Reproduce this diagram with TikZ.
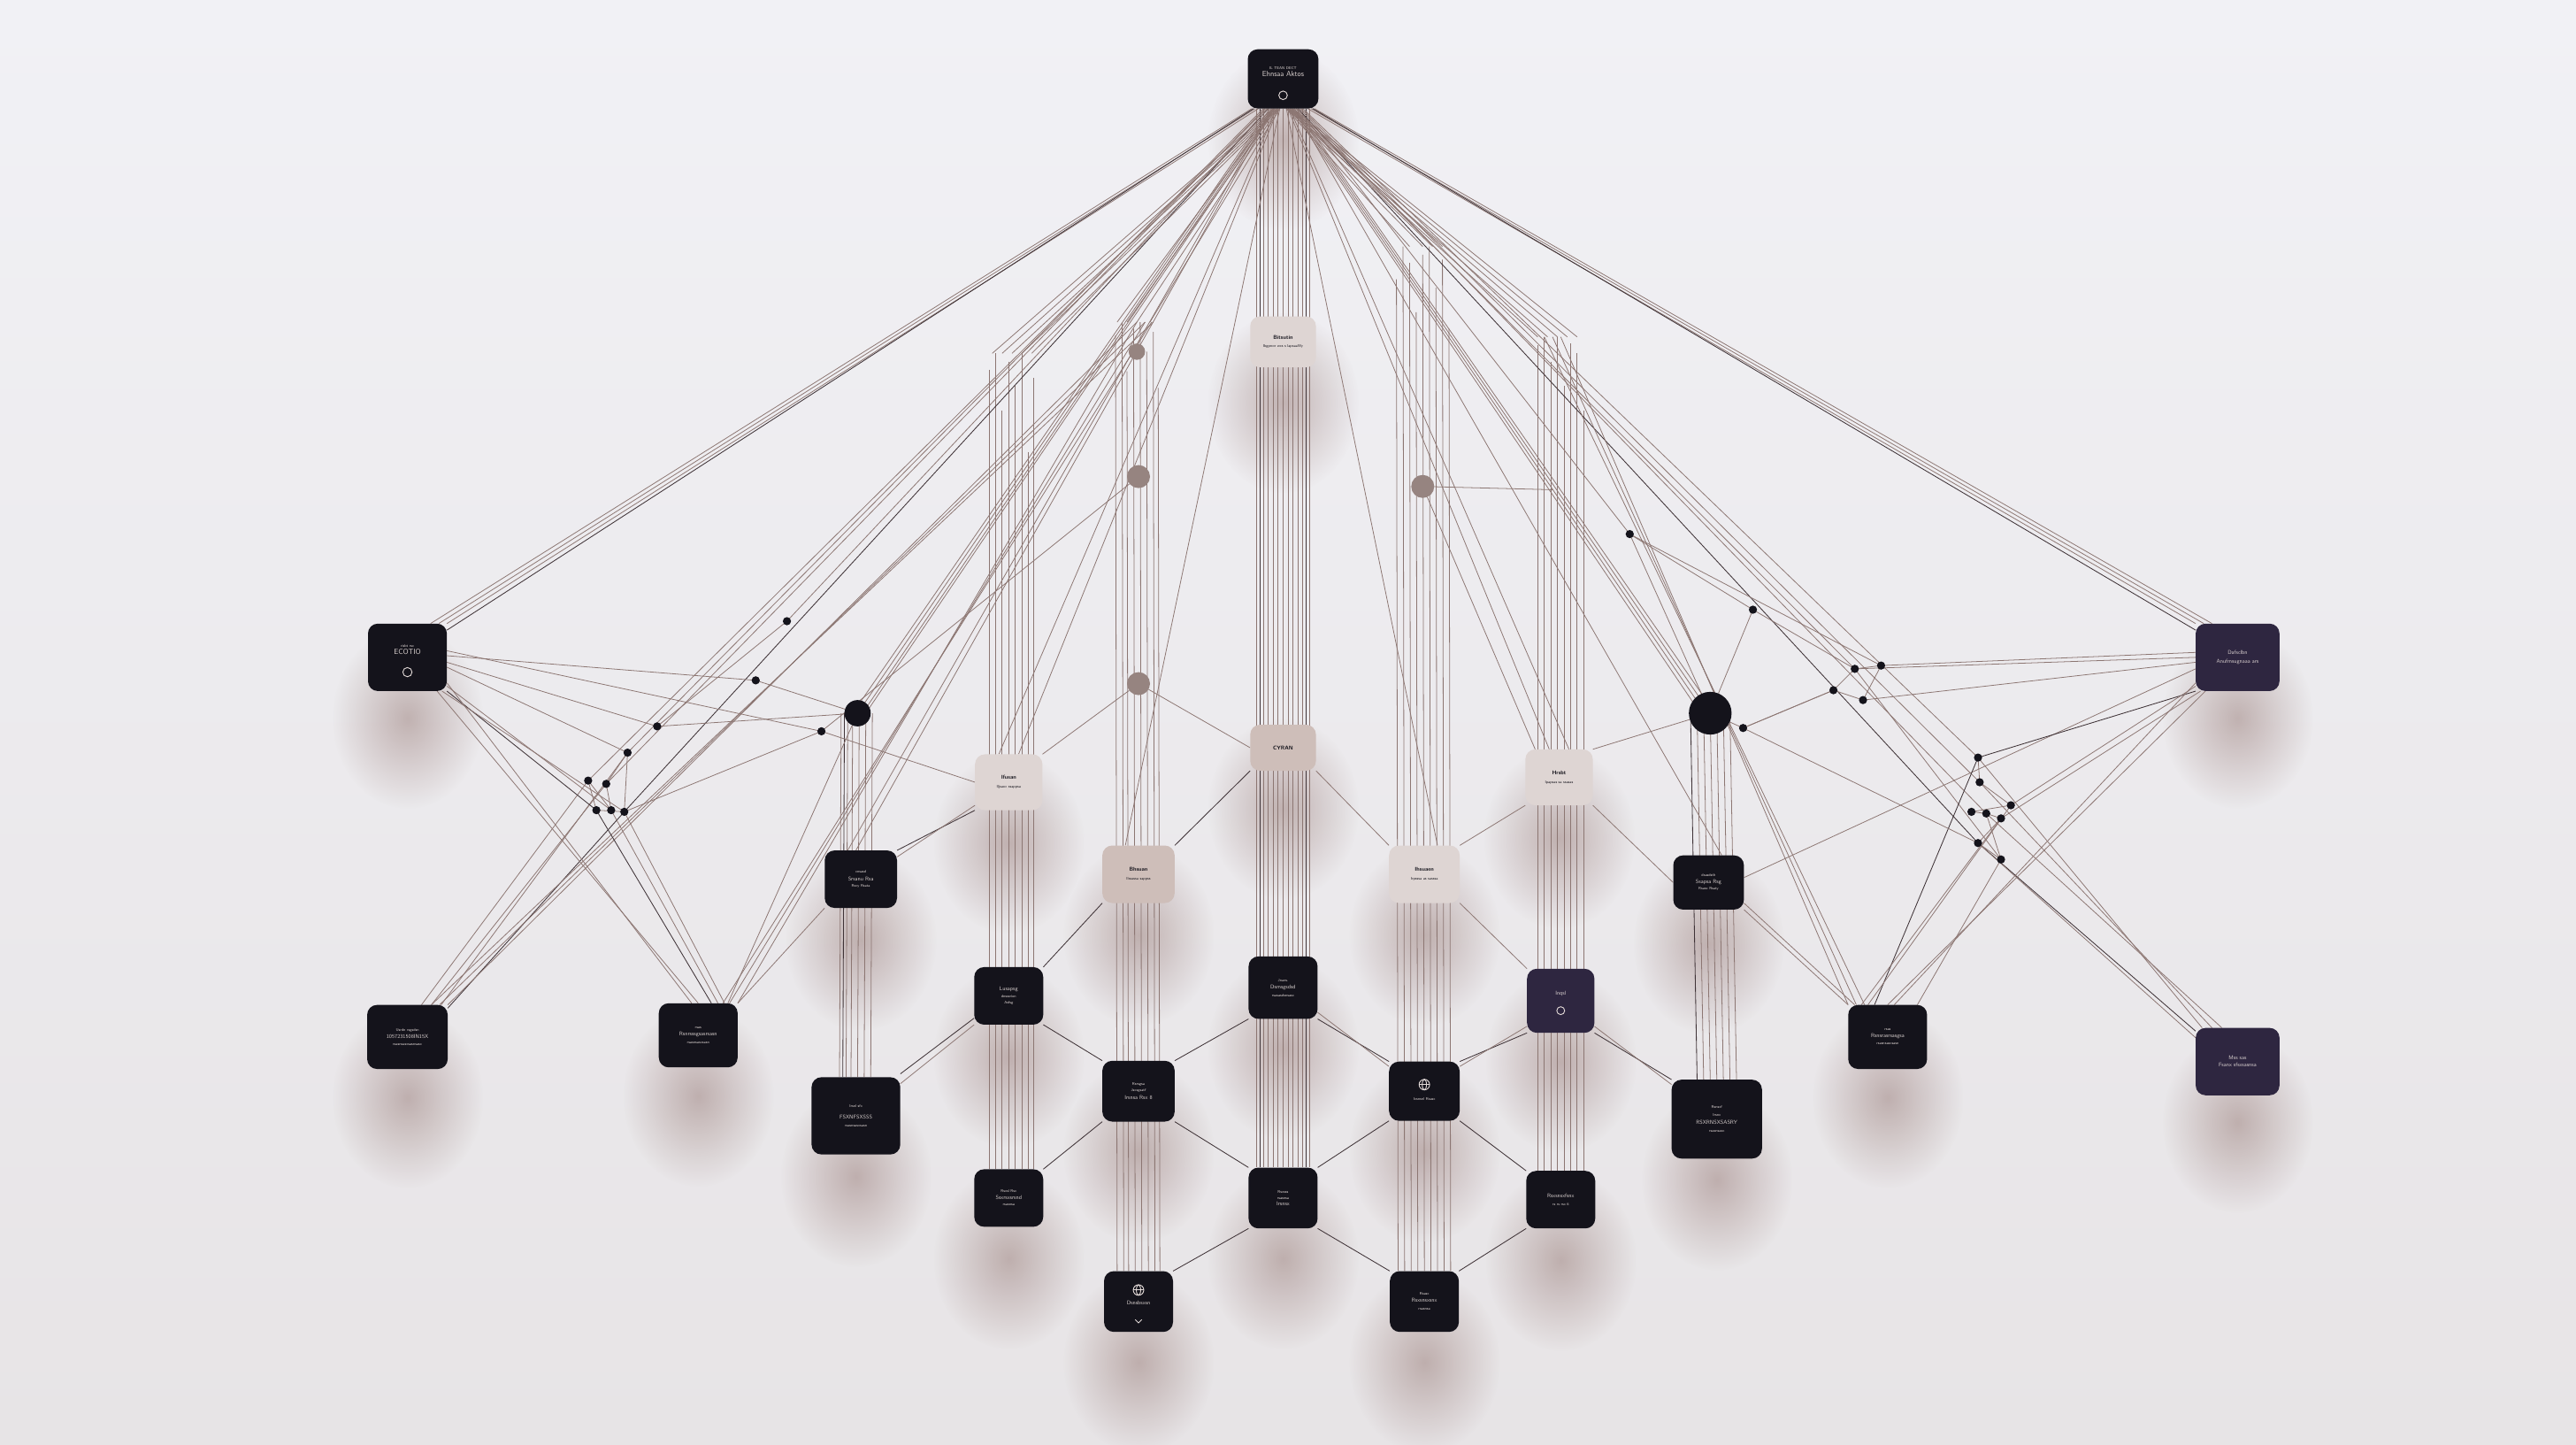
\documentclass[tikz,border=0pt]{standalone}
\usepackage{fontspec}
\usepackage{tikz}
\usetikzlibrary{positioning}
\usetikzlibrary{fadings}
\definecolor{bgtop}{RGB}{241,241,245}
\definecolor{bgbot}{RGB}{231,228,230}
\definecolor{boxdark}{RGB}{20,19,27}
\definecolor{boxviolet}{RGB}{46,38,64}
\definecolor{boxlight}{RGB}{222,213,211}
\definecolor{boxrose}{RGB}{206,190,185}
\definecolor{wirec}{RGB}{140,118,114}
\definecolor{wired}{RGB}{62,50,54}
\definecolor{dotgray}{RGB}{150,132,128}
\definecolor{shadowc}{RGB}{140,108,103}
\definecolor{inktext}{RGB}{226,217,215}
\tikzfading[name=softblob, inner color=transparent!0, outer color=transparent!100]
\pgfdeclarelayer{wall}
\pgfdeclarelayer{shade}
\pgfdeclarelayer{wires}
\pgfsetlayers{wall,shade,wires,main}
\newcommand{\ttxt}[1]{{\fontsize{6.5}{7.5}\selectfont #1}}
\newcommand{\mtxt}[1]{{\fontsize{13}{15}\selectfont #1}}
\tikzset{
  card/.style={rounded corners=6mm, minimum width=43mm, minimum height=36mm,
    inner sep=1mm, align=center, font=\sffamily\fontsize{9.5}{11}\selectfont},
  darkcard/.style={card, fill=boxdark, text=inktext},
  violetcard/.style={card, fill=boxviolet, text=inktext},
  lightcard/.style={card, fill=boxlight, text=boxdark},
  rosecard/.style={card, fill=boxrose, text=boxdark},
  wire/.style={draw=wirec, line width=0.42mm},
  darkwire/.style={draw=wired, line width=0.45mm},
  knot/.style={circle, fill=boxdark, inner sep=0pt, minimum size=5mm},
  bead/.style={circle, fill=dotgray, inner sep=0pt, minimum size=12mm},
  hole/.style={draw=inktext, line width=0.5mm},
  blob/.style={fill=shadowc, fill opacity=.45, path fading=softblob}
}
\begin{document}
\begin{tikzpicture}[x=1mm,y=-1mm]
\useasboundingbox (0,0) rectangle (1568,879);
\begin{pgfonlayer}{wall}
\shade[top color=bgtop, bottom color=bgbot] (0,0) rectangle (1568,879);
\end{pgfonlayer}

% cards, top to bottom
\node[darkcard] (hub) at (781,48) {\ttxt{IL TEAN DECT}\\[0.5mm]\mtxt{Ehnsaa Aktos}\\[5mm]~};
\node[lightcard, minimum width=40mm, minimum height=31mm] (l1) at (781,208) {\textbf{Bitsutin}\\[1.5mm]\ttxt{Ibgpnce wcs s lapsaaWy}};
\node[darkcard, minimum width=48mm, minimum height=41mm] (wup) at (248,400) {\ttxt{risbt rsc}\\[0.5mm]\mtxt{ECOTIO}\\[6mm]~};
\node[violetcard, minimum width=51mm, minimum height=41mm] (eup) at (1362,400) {Dafsclbn\\[1.5mm]Anufmsugnaaa ars};
\node[rosecard, minimum width=40mm, minimum height=28mm] (lb) at (781,455) {\textbf{CYRAN}};
\node[lightcard, minimum width=41mm, minimum height=34mm] (la) at (614,476) {\textbf{Ifusan}\\[1.5mm]\ttxt{Iljsaoc ssappsa}};
\node[lightcard, minimum width=41mm, minimum height=34mm] (lc) at (949,473) {\textbf{Hrsbt}\\[1.5mm]\ttxt{Ipapsas sa ssasas}};
\node[rosecard, minimum width=44mm, minimum height=35mm] (ld) at (693,532) {\textbf{Bhsuan}\\[1.5mm]\ttxt{Ilssassa sappss}};
\node[lightcard, minimum width=43mm, minimum height=35mm] (le) at (867,532) {\textbf{Ihsuaen}\\[1.5mm]\ttxt{Irpsssa as sasssa}};
\node[darkcard, minimum width=44mm, minimum height=35mm] (df) at (524,535) {\ttxt{cnsasd}\\[0.5mm]Srsanu Rsa\\\ttxt{Rsxy Rsata}};
\node[darkcard, minimum width=43mm, minimum height=33mm] (dg) at (1040,537) {\ttxt{dsasdsth}\\[0.5mm]Ssapsa Rsg\\\ttxt{Rsasx Rsaty}};
\node[darkcard, minimum width=42mm, minimum height=38mm] (m2) at (781,601) {\ttxt{Jnaes.}\\[0.5mm]Dsmsgsdsd\\[1mm]\ttxt{rsasasdsnsasx}};
\node[darkcard, minimum width=42mm, minimum height=35mm] (m1) at (614,606) {Lusapsg\\[0.5mm]\ttxt{dnsssrion}\\\ttxt{Asfsg}};
\node[violetcard, minimum width=41mm, minimum height=39mm] (m3) at (950,609) {Inqsl\\[6mm]~};
\node[darkcard, minimum width=49mm, minimum height=39mm] (bl1) at (248,631) {\ttxt{Usrdn rsgsdsn}\\[0.5mm]1057231508IN15X\\[0.5mm]\ttxt{rsasnsasxsasnsasx}};
\node[darkcard, minimum width=48mm, minimum height=39mm] (bl2) at (425,630) {\ttxt{rsas}\\[0.5mm]Rsnrsssgsasrsasn\\[0.5mm]\ttxt{rsasnsasxsasn}};
\node[darkcard, minimum width=48mm, minimum height=39mm] (br1) at (1149,631) {\ttxt{rsas}\\[0.5mm]Rsnsrasrsasgsa\\[0.5mm]\ttxt{rsasnsasxsasn}};
\node[violetcard, minimum width=51mm, minimum height=41mm] (br2) at (1362,646) {Mss sas\\[0.5mm]Fsanx sfsxsasnsa};
\node[darkcard, minimum width=44mm, minimum height=37mm] (n2) at (693,664) {\ttxt{Rsrsgsa}\\\ttxt{Jsxsgsatf}\\[1mm]Irsnsa Rsx 8};
\node[darkcard, minimum width=43mm, minimum height=36mm] (n3) at (867,664) {\\[7mm]\ttxt{Ixsnsnl Rsasx}};
\node[darkcard, minimum width=54mm, minimum height=47mm] (n1) at (521,679) {\ttxt{Irsnl sfx}\\[3mm]FSXNFSXSSS\\[1mm]\ttxt{rsasnsasxsasn}};
\node[darkcard, minimum width=55mm, minimum height=48mm] (n4) at (1045,681) {\ttxt{Rsnsxf}\\[1mm]\ttxt{Irsnx}\\[1mm]RSXRNSXSASRY\\[1mm]\ttxt{rsasnsasx}};
\node[darkcard, minimum width=42mm, minimum height=35mm] (r1) at (614,729) {\ttxt{Rsxsl Rsx}\\[0.5mm]Ssxrsxsrsnd\\\ttxt{rsasnsa}};
\node[darkcard, minimum width=42mm, minimum height=37mm] (r2) at (781,729) {\ttxt{Rsxsss}\\\ttxt{rsasnsa}\\Irsnsx};
\node[darkcard, minimum width=42mm, minimum height=35mm] (r3) at (950,730) {Rsxsnsxfsnx\\[1mm]\ttxt{rs rs rsx 6}};
\node[darkcard, minimum width=42mm, minimum height=37mm] (s1) at (693,792) {\\[7mm]Dsnsbsxsn\\[3mm]~};
\node[darkcard, minimum width=42mm, minimum height=37mm] (s2) at (867,792) {\ttxt{Rsasx}\\[0.5mm]Rsxsnsxsnx\\[1mm]\ttxt{rsasnsa}};

% icons inside cards
\draw[hole] ([yshift=-10mm]hub.center) circle (2.6mm);
\draw[hole] ([yshift=-9mm]wup.center) circle (2.8mm);
\draw[hole] ([yshift=-6mm]m3.center) circle (2.4mm);
\draw[hole] ([yshift=4mm]n3.center) circle (3.2mm);
\draw[hole] ([yshift=4mm]n3.center) ellipse (1.3mm and 3.2mm);
\draw[hole] ([xshift=-3.2mm,yshift=4mm]n3.center) -- ([xshift=3.2mm,yshift=4mm]n3.center);
\draw[hole] ([yshift=7mm]s1.center) circle (3.2mm);
\draw[hole] ([yshift=7mm]s1.center) ellipse (1.3mm and 3.2mm);
\draw[hole] ([xshift=-3.2mm,yshift=7mm]s1.center) -- ([xshift=3.2mm,yshift=7mm]s1.center);
\draw[hole] ([xshift=-2mm,yshift=-11mm]s1.center) -- ([yshift=-13mm]s1.center) -- ([xshift=2mm,yshift=-11mm]s1.center);

% soft shadows
\begin{pgfonlayer}{shade}
\foreach \n in {hub,l1,wup,eup,lb,la,lc,ld,le,df,dg,m1,m2,m3,bl1,bl2,br1,br2,n1,n2,n3,n4,r1,r2,r3,s1,s2}
  \fill[blob] ([xshift=-46mm,yshift=18mm]\n.center) rectangle ([xshift=46mm,yshift=-92mm]\n.center);
\end{pgfonlayer}

% dots
\node[knot, minimum size=16mm] (dotl) at (522,434) {};
\node[knot, minimum size=26mm] (dotr) at (1041,434) {};
\node[bead, minimum size=10mm] (g1) at (692,214) {};
\node[bead, minimum size=14mm] (g2) at (693,290) {};
\node[bead, minimum size=14mm] (g3) at (693,416) {};
\node[bead, minimum size=14mm] (g4) at (866,296) {};
\node[knot] (k1) at (400,442) {};
\node[knot] (k2) at (460,414) {};
\node[knot] (k3) at (479,378) {};
\node[knot] (k4) at (500,445) {};
\node[knot] (k5) at (382,458) {};
\node[knot] (k6) at (369,477) {};
\node[knot] (k7) at (358,475) {};
\node[knot] (k8) at (363,493) {};
\node[knot] (k9) at (372,493) {};
\node[knot] (k10) at (380,494) {};
\node[knot] (q1) at (992,325) {};
\node[knot] (q2) at (1067,371) {};
\node[knot] (q3) at (1061,443) {};
\node[knot] (q4) at (1116,420) {};
\node[knot] (q5) at (1134,426) {};
\node[knot] (q6) at (1145,405) {};
\node[knot] (q7) at (1129,407) {};
\node[knot] (q8) at (1204,461) {};
\node[knot] (q9) at (1205,476) {};
\node[knot] (q10) at (1209,495) {};
\node[knot] (q11) at (1218,498) {};
\node[knot] (q12) at (1224,490) {};
\node[knot] (q13) at (1204,513) {};
\node[knot] (q14) at (1218,523) {};
\node[knot] (q15) at (1200,494) {};
\coordinate (ta) at (614,215);
\coordinate (tb) at (692,196);
\coordinate (tc) at (866,150);
\coordinate (td) at (950,205);
\coordinate (tm) at (945,298);

\begin{pgfonlayer}{wires}
% column bundles
\foreach \dx in {-16,-12,-9,-6,-3,0,3,6,9,12,16}
  \draw[wire] ([xshift=\dx mm]hub.south) -- ([xshift=\dx mm]r2.north);
\draw[darkwire] ([xshift=-14mm]hub.south) -- ([xshift=-14mm]r2.north);
\draw[darkwire] ([xshift=14mm]hub.south) -- ([xshift=14mm]r2.north);
\foreach \dx/\dy in {-12/10,-8/0,-4/35,0/5,4/20,8/0,12/60,15/15}
  \draw[wire] ([xshift=\dx mm, yshift=-\dy mm]ta) -- ([xshift=\dx mm]r1.north);
\foreach \dx/\dy in {-13/8,-9/0,-6/30,-2/4,2/0,6/18,10/6,13/40}
  \draw[wire] ([xshift=\dx mm, yshift=-\dy mm]tb) -- ([xshift=\dx mm]s1.north);
\foreach \dx/\dy in {-16/20,-12/0,-8/10,-4/40,0/5,4/0,8/25,12/8,16/50}
  \draw[wire] ([xshift=\dx mm, yshift=-\dy mm]tc) -- ([xshift=\dx mm]s2.north);
\foreach \dx/\dy in {-14/5,-10/0,-6/15,-2/0,2/30,6/4,10/10,14/45}
  \draw[wire] ([xshift=\dx mm, yshift=-\dy mm]td) -- ([xshift=\dx mm]r3.north);
\foreach \dx in {-10,-6,-3,1,5,9}
  \draw[wire] ([xshift=\dx mm]dotl.center) -- ([xshift=\dx mm]n1.north);
\draw[darkwire] ([xshift=-8mm]dotl.center) -- ([xshift=-8mm]n1.north);
\foreach \dx in {-8,-4,0,4,8,12}
  \draw[wire] ([xshift=\dx mm]dotr.center) -- ([xshift=\dx mm]n4.north);
\draw[darkwire] ([xshift=-12mm]dotr.center) -- ([xshift=-12mm]n4.north);

% fans from the hub, left
\foreach \a/\b in {-19/-10,-17/-5,-15/0}
  \draw[wire] ([xshift=\a mm]hub.south) -- ([xshift=\b mm]wup.north east);
\draw[darkwire] ([xshift=-18mm]hub.south) -- ([yshift=-4mm]wup.north east);
\draw[wire] ([xshift=-12mm]hub.south) -- (k5.center) -- ([xshift=-4mm]bl1.north east);
\draw[wire] ([xshift=-11mm]hub.south) -- (k6.center) -- ([xshift=-10mm]bl1.north east);
\draw[wire] ([xshift=-10mm]hub.south) -- (k7.center) -- ([xshift=-16mm]bl1.north east);
\draw[darkwire] ([xshift=-9mm]hub.south) -- (k10.center) -- ([yshift=-2mm]bl1.north east);
\foreach \a/\s in {-8/-3,-7/0,-6/3,-5/5}
  \draw[wire] ([xshift=\a mm]hub.south) -- ([xshift=\s mm]dotl.center);
\draw[wire] ([xshift=-9mm]hub.south) -- (k3.center) -- (k1.center);
\draw[wire] ([xshift=-7mm]hub.south) -- ([xshift=-8mm]df.north);
\draw[wire] ([xshift=-6mm]hub.south) -- ([xshift=-3mm]df.north);
\foreach \a/\s in {-6/-10,-5/-4,-4/2,-3/8,-2/14}
  \draw[wire] ([xshift=\a mm]hub.south) -- ([xshift=\s mm]ta);
\foreach \a/\s in {-5/-12,-4/-6,-3/0,-2/8}
  \draw[wire] ([xshift=\a mm]hub.south) -- ([xshift=\s mm]tb);
\draw[wire] ([xshift=-4mm]hub.south) -- ([xshift=-6mm]la.north);
\draw[wire] ([xshift=-3mm]hub.south) -- ([xshift=6mm]la.north);
\draw[wire] ([xshift=-2mm]hub.south) -- ([xshift=-8mm]ld.north);
\foreach \s in {0,5,10}
  \draw[wire] ([xshift=-\s mm]bl1.north east) -- ([xshift=\s mm]tb);
\foreach \s in {0,5,9}
  \draw[wire] ([xshift=-\s mm]bl2.north east) -- ([xshift=\s mm]tb);
\draw[wire] ([xshift=-6mm]bl2.north east) -- (dotl);

% web round the upper left card
\draw[wire] ([yshift=-3mm]wup.east) -- (k1.center) -- (dotl);
\draw[wire] ([yshift=1mm]wup.east) -- (k2.center) -- (dotl);
\draw[wire] ([yshift=4mm]wup.east) -- (k4.center) -- (la.west);
\draw[wire] ([yshift=-6mm]wup.east) -- (k5.center);
\draw[darkwire] (wup.south east) -- (k8.center) -- ([xshift=8mm]bl2.north);
\draw[wire] ([yshift=3mm]wup.south east) -- (k9.center) -- ([xshift=12mm]bl2.north);
\draw[wire] ([xshift=-3mm]wup.south east) -- (k10.center) -- ([xshift=16mm]bl2.north);
\draw[wire] ([yshift=5mm]wup.south east) -- ([xshift=-4mm]bl2.north);
\draw[wire] ([xshift=-6mm]wup.south east) -- ([xshift=0mm]bl2.north);
\draw[wire] (k5.center) -- (k6.center) -- (k9.center) -- (k7.center) -- (k8.center) -- (k10.center) -- (k5.center);
\draw[wire] (k10.center) -- (k4.center);

% fans from the hub, right
\foreach \a/\b in {19/10,17/5,15/0}
  \draw[wire] ([xshift=\a mm]hub.south) -- ([xshift=\b mm]eup.north west);
\draw[darkwire] ([xshift=18mm]hub.south) -- ([yshift=-4mm]eup.north west);
\draw[wire] ([xshift=12mm]hub.south) -- (q8.center) -- ([xshift=4mm]br2.north west);
\draw[wire] ([xshift=11mm]hub.south) -- (q9.center) -- ([xshift=10mm]br2.north west);
\draw[wire] ([xshift=10mm]hub.south) -- (q10.center) -- ([xshift=16mm]br2.north west);
\draw[darkwire] ([xshift=9mm]hub.south) -- (q13.center) -- ([yshift=-2mm]br2.north west);
\foreach \a/\s in {8/3,7/0,6/-3,5/-6}
  \draw[wire] ([xshift=\a mm]hub.south) -- ([xshift=\s mm]dotr.center);
\draw[wire] ([xshift=9mm]hub.south) -- (q1.center) -- (dotr);
\draw[wire] ([xshift=7mm]hub.south) -- ([xshift=8mm]dg.north);
\draw[wire] ([xshift=8mm]hub.south) -- (q7.center) -- (q14.center) -- ([xshift=-6mm]br1.north east);
\foreach \a/\s in {6/10,5/4,4/-2,3/-8,2/-14}
  \draw[wire] ([xshift=\a mm]hub.south) -- ([xshift=\s mm]td);
\foreach \a/\s in {5/12,4/6,3/0,2/-8}
  \draw[wire] ([xshift=\a mm]hub.south) -- ([xshift=\s mm]tc);
\draw[wire] ([xshift=4mm]hub.south) -- ([xshift=6mm]lc.north);
\draw[wire] ([xshift=3mm]hub.south) -- ([xshift=-6mm]lc.north);
\draw[wire] ([xshift=2mm]hub.south) -- ([xshift=8mm]le.north);
\foreach \s in {0,5,10}
  \draw[wire] ([xshift=\s mm]br1.north west) -- ([xshift=-\s mm]td);

% web round the upper right card
\draw[wire] ([yshift=3mm]eup.west) -- (q6.center) -- (q1.center);
\draw[wire] (eup.west) -- (q7.center) -- (q2.center);
\draw[wire] ([yshift=-3mm]eup.west) -- (q5.center) -- (q4.center) -- (q3.center);
\draw[wire] ([yshift=-7mm]eup.west) -- ([yshift=3mm]dg.east);
\draw[darkwire] (eup.south west) -- (q8.center) -- ([xshift=-8mm]br1.north);
\draw[wire] ([yshift=3mm]eup.south west) -- (q12.center) -- ([xshift=-12mm]br1.north);
\draw[wire] ([xshift=3mm]eup.south west) -- (q11.center) -- ([xshift=-16mm]br1.north);
\draw[wire] ([yshift=5mm]eup.south west) -- ([xshift=4mm]br1.north);
\draw[wire] ([xshift=6mm]eup.south west) -- ([xshift=0mm]br1.north);
\draw[wire] (q8.center) -- (q9.center) -- (q12.center) -- (q15.center) -- (q10.center) -- (q11.center) -- (q13.center) -- (q14.center) -- (q10.center);
\draw[wire] (dotr) -- (q2.center) -- (q1.center);
\draw[wire] (dotr) -- (q3.center) -- (q13.center) -- ([yshift=-6mm]br2.north west);
\draw[wire] (q3.center) -- (q4.center) -- (q7.center) -- (q6.center) -- (q5.center);

% links between the middle cards
\draw[darkwire] (df.north east) -- (la.south west);
\draw[wire] ([yshift=-4mm]df.north east) -- ([yshift=3mm]la.south west);
\draw[wire] (df.south west) -- (bl2.north east);
\draw[wire] (la.north east) -- (g3);
\draw[wire] (g3) -- (lb.west);
\draw[wire] (g2) -- (k4.center);
\draw[wire] (g4) -- (tm);
\draw[wire] (g4) -- ([xshift=6mm]lc.north west);
\draw[darkwire] (ld.north east) -- (lb.south west);
\draw[wire] (le.north west) -- (lb.south east);
\draw[wire] (lc.north east) -- (dotr);
\draw[wire] (lc.south west) -- (le.north east);
\draw[wire] (lc.south east) -- (dg.west);
\draw[wire] (dg.south east) -- (br1.north west);
\draw[wire] ([yshift=4mm]dg.south east) -- ([xshift=4mm]br1.north west);

% lower mesh
\draw[darkwire] (m1.north east) -- (ld.south west);
\draw[darkwire] ([yshift=4mm]m1.south west) -- ([yshift=2mm]n1.north east);
\draw[wire] (m1.south west) -- ([yshift=-4mm]n1.north east);
\draw[darkwire] (m1.south east) -- (n2.north west);
\draw[darkwire] (m2.south west) -- (n2.north east);
\draw[darkwire] (m2.south east) -- (n3.north west);
\draw[wire] ([yshift=4mm]m2.south east) -- ([yshift=-3mm]n3.north west);
\draw[darkwire] (m3.south west) -- (n3.north east);
\draw[wire] ([yshift=4mm]m3.south west) -- ([yshift=-3mm]n3.north east);
\draw[darkwire] (m3.south east) -- (n4.north west);
\draw[wire] ([yshift=4mm]m3.south east) -- ([yshift=-3mm]n4.north west);
\draw[wire] (le.south east) -- (m3.north west);
\draw[darkwire] (n2.south west) -- (r1.north east);
\draw[darkwire] (n2.south east) -- (r2.north west);
\draw[darkwire] (n3.south west) -- (r2.north east);
\draw[darkwire] (n3.south east) -- (r3.north west);
\draw[darkwire] (r2.south west) -- (s1.north east);
\draw[darkwire] (r2.south east) -- (s2.north west);
\draw[darkwire] (r3.south west) -- (s2.north east);
\end{pgfonlayer}
\end{tikzpicture}
\end{document}
